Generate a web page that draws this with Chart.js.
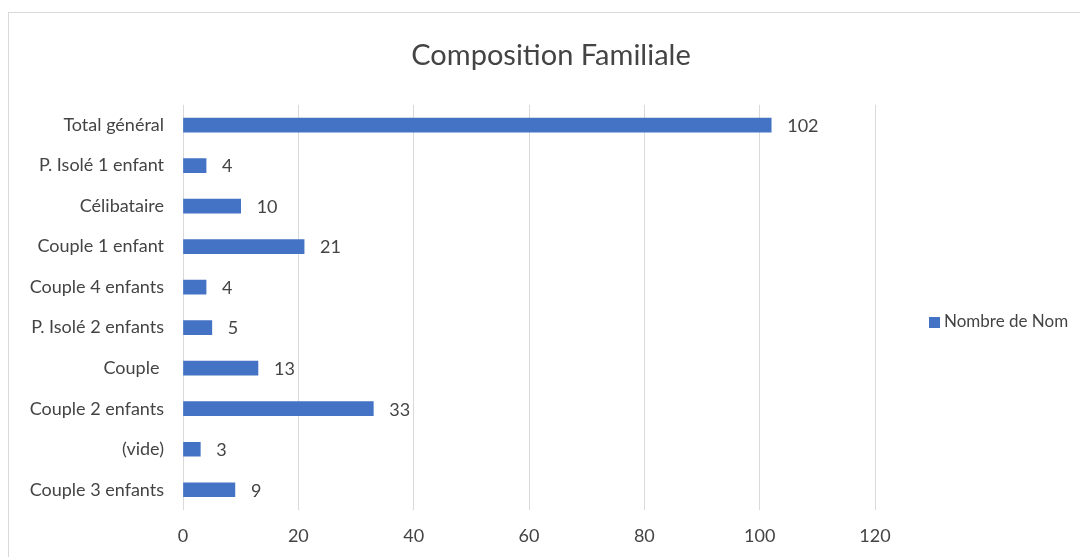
<!DOCTYPE html>
<html>
<head>
<meta charset="utf-8">
<script src="https://cdn.jsdelivr.net/npm/chart.js@4"></script>
<style>
  html, body { margin: 0; padding: 0; width: 1080px; height: 557px; overflow: hidden; background: #fff; }
  #frame { position: absolute; left: 8px; top: 12px; width: 1086px; height: 600px; border: 1px solid #d9d9d9; box-sizing: border-box; }
  #wrap { position: absolute; left: 8px; top: 12px; width: 1086px; height: 545px; }
  #legend { position: absolute; left: 929px; top: 310px; font-family: Lato, "Open Sans", sans-serif; font-size: 17px; color: #444; white-space: nowrap; line-height: 22px; }
  #legend span.box { display: inline-block; width: 11px; height: 11px; background: #4472C4; margin-right: 4px; vertical-align: -1px; }
</style>
</head>
<body>
<div id="frame"></div>
<div id="wrap"><canvas id="c"></canvas></div>
<div id="legend"><span class="box"></span>Nombre de Nom</div>
<script>
const categories = ["Total général", "P. Isolé 1 enfant", "Célibataire", "Couple 1 enfant", "Couple 4 enfants", "P. Isolé 2 enfants", "Couple ", "Couple 2 enfants", "(vide)", "Couple 3 enfants"];
const seriesName = "Nombre de Nom";
const values = [102, 4, 10, 21, 4, 5, 13, 33, 3, 9];
const xTicks = [0, 20, 40, 60, 80, 100, 120];
const chartTitle = "Composition Familiale";

const FONT = 'Lato, "Open Sans", sans-serif';
const TEXT = '#444444';

const valueLabels = {
  id: 'valueLabels',
  afterDatasetsDraw(chart) {
    const ctx = chart.ctx;
    const meta = chart.getDatasetMeta(0);
    ctx.save();
    ctx.font = '18px ' + FONT;
    ctx.fillStyle = TEXT;
    ctx.textAlign = 'left';
    ctx.textBaseline = 'middle';
    meta.data.forEach((bar, i) => {
      ctx.fillText(String(values[i]), bar.x + 16, bar.y + 1);
    });
    ctx.restore();
  }
};

new Chart(document.getElementById('c'), {
  type: 'bar',
  data: {
    labels: categories,
    datasets: [{
      label: seriesName,
      data: values,
      backgroundColor: '#4472C4',
      borderWidth: 0,
      barThickness: 14
    }]
  },
  options: {
    indexAxis: 'y',
    responsive: true,
    maintainAspectRatio: false,
    animation: false,
    devicePixelRatio: 1,
    layout: { padding: 0 },
    plugins: {
      legend: { display: false },
      tooltip: { enabled: false },
      title: {
        display: true,
        text: chartTitle,
        color: TEXT,
        font: { family: FONT, size: 29, weight: 'normal' },
        padding: { top: 26, bottom: 32 }
      }
    },
    scales: {
      x: {
        min: 0,
        max: 120,
        afterBuildTicks(scale) { scale.ticks = xTicks.map(v => ({ value: v })); },
        afterFit(scale) { scale.height = 47; },
        grid: { color: '#d9d9d9', lineWidth: 1, drawTicks: false },
        border: { display: false },
        ticks: { color: TEXT, font: { family: FONT, size: 18 }, padding: 15, maxRotation: 0 }
      },
      y: {
        afterFit(scale) { scale.width = 175; },
        grid: { display: false, drawTicks: false },
        border: { display: false },
        ticks: { color: TEXT, font: { family: FONT, size: 18 }, padding: 19 }
      },
      yRight: {
        type: 'category',
        position: 'right',
        afterFit(scale) { scale.width = 219; },
        grid: { display: false, drawTicks: false },
        border: { display: false },
        ticks: { display: false }
      }
    }
  },
  plugins: [valueLabels]
});
</script>
</body>
</html>
